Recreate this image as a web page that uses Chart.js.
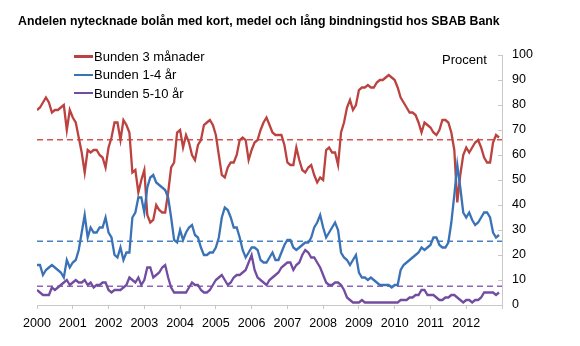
<!DOCTYPE html>
<html>
<head>
<meta charset="utf-8">
<script src="https://cdn.jsdelivr.net/npm/chart.js@4"></script>
<style>
  body { margin: 0; background: #fff; }
  #wrap { position: relative; width: 580px; height: 346px; font-family: 'Liberation Sans', Arial, sans-serif; color: #000; }
  #title { position: absolute; left: 18px; top: 14px; font-size: 12.3px; font-weight: bold; white-space: nowrap; }
  #unit { position: absolute; left: 442px; top: 52px; font-size: 13px; }
  #legend { position: absolute; left: 74px; top: 48px; font-size: 13px; }
  #legend div { height: 18.3px; line-height: 18px; white-space: nowrap; }
  #legend span { display: inline-block; width: 19px; height: 2.5px; vertical-align: middle; margin-right: 1px; position: relative; top: -1px; }
  canvas { position: absolute; left: 0; top: 0; }
</style>
</head>
<body>
<div id="wrap">
  <canvas id="chart" width="580" height="346"></canvas>
  <div id="title">Andelen nytecknade bolån med kort, medel och lång bindningstid hos SBAB Bank</div>
  <div id="unit">Procent</div>
  <div id="legend"></div>
</div>
<script>
// monthly shares, Jan 2000 - Dec 2012
var seriesNames = ['Bunden 3 månader', 'Bunden 1-4 år', 'Bunden 5-10 år'];
var seriesColors = ['rgb(187, 66, 63)', 'rgb(58, 114, 182)', 'rgb(114, 76, 160)'];
var dashColors = ['rgb(214, 82, 80)', 'rgb(72, 128, 198)', 'rgb(140, 104, 186)'];

var short3m = [78, 79, 81, 83, 81, 77, 78, 78, 79, 80, 70, 78, 75, 73, 67, 61, 53, 62, 61, 62,
  62, 60, 59, 55, 63, 67, 73, 73, 66, 74, 72, 69, 53, 54, 45, 50, 54, 36, 33, 34,
  40, 38, 37, 37, 45, 55, 57, 69, 70, 63, 68, 65, 60, 58, 64, 66, 72, 73, 74, 72,
  68, 60, 52, 51, 55, 57, 57, 60, 66, 67, 66, 58, 62, 65, 66, 70, 73, 75, 72, 69,
  68, 68, 68, 64, 57, 56, 56, 63, 58, 54, 53, 55, 56, 52, 49, 51, 50, 62, 63, 61,
  61, 56, 69, 73, 79, 82, 78, 80, 86, 87, 87, 88, 87, 87, 89, 90, 90, 91, 92, 91,
  90, 87, 83, 81, 79, 77, 77, 76, 73, 69, 73, 72, 71, 69, 68, 70, 74, 74, 73, 69,
  62, 41, 52, 60, 63, 61, 63, 65, 66, 63, 59, 57, 57, 65, 68, 67];

var medium14 = [16, 16, 12, 14, 15, 16, 15, 14, 13, 11, 18, 15, 17, 18, 22, 29, 36, 27, 31, 29,
  29, 31, 31, 35, 29, 27, 20, 19, 23, 18, 21, 21, 35, 37, 43, 43, 37, 47, 51, 52,
  49, 48, 47, 46, 43, 35, 26, 25, 30, 26, 29, 31, 32, 28, 27, 23, 20, 20, 21, 21,
  23, 27, 35, 39, 38, 35, 31, 31, 27, 22, 19, 21, 23, 23, 22, 18, 17, 17, 19, 21,
  18, 18, 21, 24, 26, 26, 23, 22, 23, 24, 25, 25, 27, 31, 33, 36, 31, 27, 29, 31,
  33, 30, 21, 19, 18, 16, 18, 20, 13, 11, 11, 10, 11, 10, 9, 8, 8, 8, 8, 7,
  8, 8, 14, 16, 17, 18, 19, 20, 21, 23, 22, 23, 24, 27, 27, 24, 23, 23, 25, 33,
  44, 56, 47, 37, 35, 37, 34, 32, 33, 35, 37, 37, 35, 29, 27, 28];

var long510 = [6, 5, 4, 4, 4, 7, 6, 7, 8, 9, 10, 8, 9, 10, 9, 9, 10, 8, 9, 7,
  8, 8, 9, 9, 6, 5, 6, 6, 6, 7, 8, 11, 10, 9, 11, 8, 10, 15, 15, 11,
  12, 13, 15, 16, 11, 7, 5, 5, 5, 5, 5, 7, 9, 8, 8, 6, 5, 5, 6, 8,
  10, 11, 12, 10, 8, 9, 11, 12, 12, 13, 14, 17, 20, 14, 11, 10, 9, 8, 10, 11,
  12, 13, 15, 16, 17, 17, 14, 16, 17, 20, 22, 21, 19, 19, 17, 15, 12, 9, 8, 8,
  9, 9, 8, 6, 3, 2, 1, 1, 1, 2, 1, 1, 1, 1, 1, 1, 1, 1, 1, 1,
  1, 1, 2, 2, 2, 3, 3, 4, 4, 6, 6, 4, 4, 4, 3, 2, 2, 3, 3, 4,
  4, 3, 2, 1, 2, 2, 1, 2, 2, 3, 5, 5, 5, 5, 4, 5];

// period averages (dashed lines)
var averages = [66.1, 25.5, 7.5];

var startYear = 2000;
var endYear = 2013;
var months = short3m.map(function (v, i) { return startYear + i / 12; });

function points(values) {
  return values.map(function (v, i) { return { x: months[i], y: v }; });
}
function flat(value) {
  return [{ x: startYear, y: value }, { x: endYear, y: value }];
}

var seriesValues = [short3m, medium14, long510];
var datasets = [];
seriesValues.forEach(function (vals, k) {
  datasets.push({
    label: seriesNames[k],
    data: points(vals),
    borderColor: seriesColors[k],
    backgroundColor: seriesColors[k],
    borderWidth: 2.3,
    pointRadius: 0,
    tension: 0,
    order: 3 - k
  });
});
averages.forEach(function (a, k) {
  datasets.push({
    label: '',
    data: flat(a),
    borderColor: dashColors[k],
    borderWidth: 1.5,
    borderDash: [6, 4],
    pointRadius: 0,
    order: 10 - k
  });
});

// legend
var legend = document.getElementById('legend');
seriesNames.forEach(function (name, k) {
  var row = document.createElement('div');
  row.innerHTML = '<span style="background:' + seriesColors[k] + '"></span>' + name;
  legend.appendChild(row);
});

// y ticks point into the plot
var innerTicks = {
  id: 'innerTicks',
  afterDraw: function (chart) {
    var ctx = chart.ctx;
    var y = chart.scales.y;
    ctx.save();
    ctx.strokeStyle = '#c8c8c8';
    ctx.lineWidth = 1;
    y.ticks.forEach(function (t) {
      var py = Math.round(y.getPixelForValue(t.value)) + 0.5;
      ctx.beginPath();
      ctx.moveTo(y.left - 4, py);
      ctx.lineTo(y.left, py);
      ctx.stroke();
    });
    ctx.restore();
  }
};

var tickFont = { family: "'Liberation Sans', Arial, sans-serif", size: 12.5 };

new Chart(document.getElementById('chart'), {
  type: 'line',
  data: { datasets: datasets },
  plugins: [innerTicks],
  options: {
    responsive: false,
    animation: false,
    layout: { padding: { left: 37, top: 55, right: 0, bottom: 0 } },
    plugins: {
      legend: { display: false },
      title: { display: false },
      tooltip: { enabled: false }
    },
    scales: {
      x: {
        type: 'linear',
        min: startYear,
        max: endYear,
        ticks: {
          stepSize: 1,
          color: '#000',
          font: tickFont,
          padding: 7,
          maxRotation: 0,
          callback: function (v) { return v < endYear ? String(v) : ''; }
        },
        grid: { drawOnChartArea: false, drawTicks: true, tickLength: 4, color: '#c8c8c8' },
        border: { color: '#c8c8c8' },
        afterFit: function (s) { s.height = 41; }
      },
      y: {
        position: 'right',
        min: 0,
        max: 100,
        ticks: { stepSize: 10, color: '#000', font: tickFont, padding: 10 },
        grid: { drawOnChartArea: false, drawTicks: false },
        border: { color: '#c8c8c8' },
        afterFit: function (s) { s.width = 78; }
      }
    }
  }
});
</script>
</body>
</html>
